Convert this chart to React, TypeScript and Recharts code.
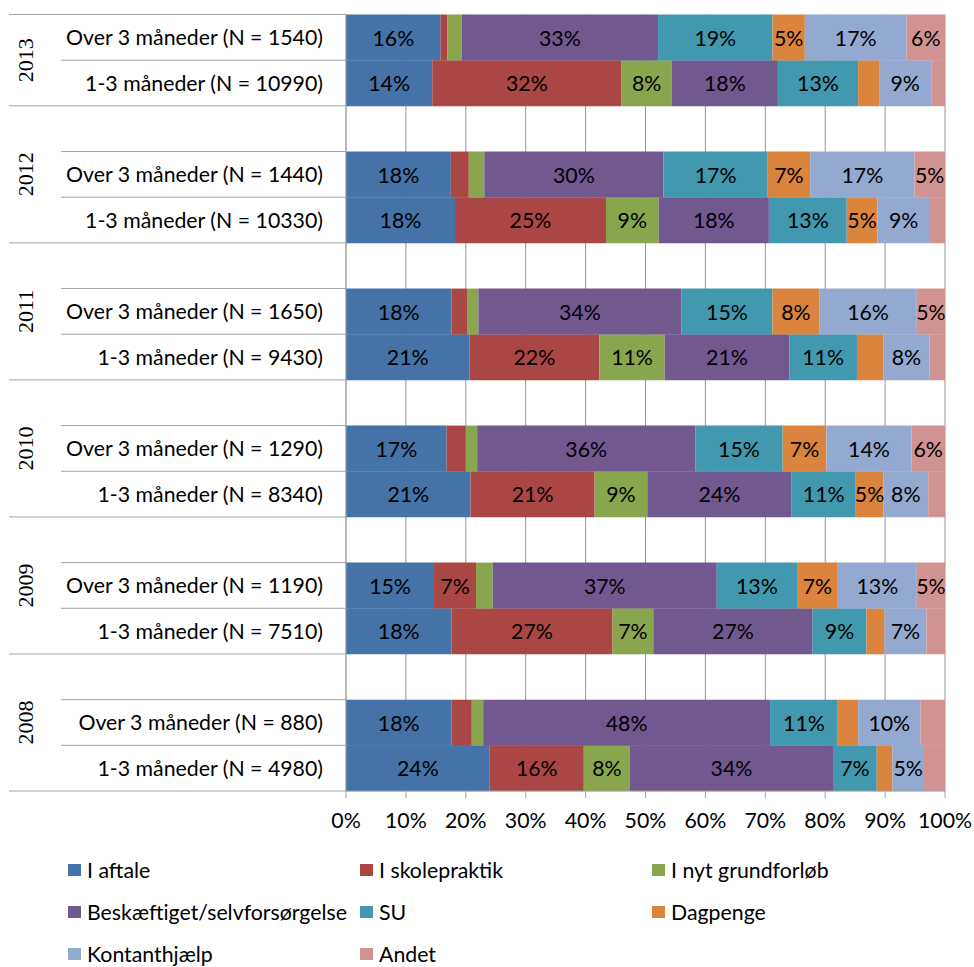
import React from 'react';
import { BarChart, Bar, XAxis, YAxis, CartesianGrid, LabelList, Legend } from 'recharts';

// years from top to bottom, each with an "Over 3" row and a "1-3" row
const years = ['2013', '2012', '2011', '2010', '2009', '2008'];
const overN = [1540, 1440, 1650, 1290, 1190, 880];
const shortN = [10990, 10330, 9430, 8340, 7510, 4980];

// shares in %, ordered (Over 3, 1-3) per year, 2013 -> 2008
const iAftale = [15.8, 14.4, 17.5, 18.2, 17.6, 20.6, 16.8, 20.8, 14.7, 17.6, 17.6, 24.0];
const iSkolepraktik = [1.1, 31.6, 3.0, 25.2, 2.6, 21.7, 3.2, 20.7, 7.0, 26.9, 3.4, 15.7];
const iNytGrundforloeb = [2.4, 8.4, 2.6, 8.8, 1.9, 10.9, 1.9, 8.8, 2.8, 6.8, 1.9, 7.7];
const beskaeftiget = [32.8, 17.7, 29.9, 18.4, 33.9, 20.8, 36.4, 24.1, 37.4, 26.6, 47.9, 33.9];
const su = [19.1, 13.4, 17.4, 13.0, 15.2, 11.3, 14.6, 10.7, 13.4, 9.0, 11.3, 7.3];
const dagpenge = [5.4, 3.5, 7.1, 5.1, 7.8, 4.4, 7.3, 4.6, 6.8, 3.0, 3.4, 2.6];
const kontanthjaelp = [17.0, 8.7, 17.4, 8.8, 16.3, 7.7, 14.2, 7.5, 13.2, 7.0, 10.4, 5.3];
const andet = [6.4, 2.3, 5.1, 2.5, 4.7, 2.6, 5.6, 2.8, 4.7, 3.1, 4.1, 3.5];

const seriesNames = [
  'I aftale',
  'I skolepraktik',
  'I nyt grundforløb',
  'Beskæftiget/selvforsørgelse',
  'SU',
  'Dagpenge',
  'Kontanthjælp',
  'Andet',
];
const seriesValues = [iAftale, iSkolepraktik, iNytGrundforloeb, beskaeftiget, su, dagpenge, kontanthjaelp, andet];
const seriesColors = ['#4572A7', '#AA4643', '#89A54E', '#71588F', '#4198AF', '#DB843D', '#93A9CF', '#D19392'];
const seriesKeys = seriesNames.map((_, i) => `s${i}`);

const xTicks = [0, 10, 20, 30, 40, 50, 60, 70, 80, 90, 100];

const FONT = 'Lato, "Noto Sans", sans-serif';
const FONT_SIZE = 21.3;
const YEAR_FONT = '"Liberation Serif", serif';
const PLOT_TOP = 14.5;
const PLOT_BOTTOM = 791;
const AXIS_X = 346;
const LINE_COLOR = '#a3a3a3';

type Row = { key: string; label: string; year: string; kind: 'over' | 'short' | 'blank'; [k: string]: any };

const rows: Row[] = [];
years.forEach((year, i) => {
  if (i > 0) rows.push({ key: `blank-${year}`, label: '', year, kind: 'blank' });
  const over: Row = { key: `over-${year}`, label: `Over 3 måneder (N = ${overN[i]})`, year, kind: 'over' };
  const short: Row = { key: `short-${year}`, label: `1-3 måneder (N = ${shortN[i]})`, year, kind: 'short' };
  seriesValues.forEach((vals, s) => {
    over[seriesKeys[s]] = vals[2 * i];
    short[seriesKeys[s]] = vals[2 * i + 1];
  });
  rows.push(over, short);
});

const BAND = (PLOT_BOTTOM - PLOT_TOP) / rows.length;

const CategoryTick = (props: any) => {
  const { y, payload } = props;
  const row = rows.find((r) => r.key === payload.value);
  if (!row) return null;
  const top = y - BAND / 2;
  const bottom = y + BAND / 2;
  const first = row.key === rows[0].key;
  let yearY: number | null = null;
  if (row.kind === 'over') yearY = first ? bottom : y;
  return (
    <g>
      {first && <line x1={9} x2={AXIS_X} y1={top} y2={top} stroke={LINE_COLOR} />}
      <line x1={row.kind === 'short' ? 9 : 61} x2={AXIS_X} y1={bottom} y2={bottom} stroke={LINE_COLOR} />
      {row.label && (
        <text x={323} y={y} textAnchor="end" dominantBaseline="central" fontFamily={FONT} fontSize={FONT_SIZE} fill="#000">
          {row.label}
        </text>
      )}
      {yearY !== null && (
        <text
          x={26}
          y={yearY}
          transform={`rotate(-90 26 ${yearY})`}
          textAnchor="middle"
          dominantBaseline="central"
          fontFamily={YEAR_FONT}
          fontSize={22}
          fill="#000"
        >
          {row.year}
        </text>
      )}
    </g>
  );
};

const renderLabel = (props: any) => {
  const { x, y, width, height, value } = props;
  if (value == null || value < 4.5) return null;
  return (
    <text
      x={x + width / 2}
      y={y + height / 2}
      textAnchor="middle"
      dominantBaseline="central"
      fontFamily={FONT}
      fontSize={FONT_SIZE}
      fill="#000"
    >
      {`${Math.round(value)}%`}
    </text>
  );
};

const legendCols = [68, 360, 652];

const LegendContent = () => (
  <div style={{ position: 'relative', width: 974, height: 104, fontFamily: FONT, fontSize: FONT_SIZE, color: '#000' }}>
    {seriesNames.map((name, i) => (
      <div
        key={name}
        style={{
          position: 'absolute',
          left: legendCols[i % 3],
          top: Math.floor(i / 3) * 42,
          height: 22,
          lineHeight: '22px',
          display: 'flex',
          alignItems: 'center',
          whiteSpace: 'nowrap',
        }}
      >
        <span style={{ display: 'inline-block', width: 13, height: 12, background: seriesColors[i], marginRight: 6 }} />
        <span>{name}</span>
      </div>
    ))}
  </div>
);

export default function App() {
  return (
    <div style={{ position: 'absolute', left: 0, top: 0, width: 974, height: 967, background: '#fff' }}>
      <BarChart
        width={974}
        height={967}
        data={rows}
        layout="vertical"
        barCategoryGap={0}
        margin={{ top: PLOT_TOP, right: 29, bottom: 0, left: 0 }}
      >
        <CartesianGrid horizontal={false} stroke="#969696" />
        <XAxis
          type="number"
          domain={[0, 100]}
          ticks={xTicks}
          allowDataOverflow
          tickFormatter={(v: number) => `${v}%`}
          height={967 - PLOT_BOTTOM}
          axisLine={{ stroke: LINE_COLOR }}
          tickLine={{ stroke: LINE_COLOR }}
          tickSize={7}
          tickMargin={15}
          tick={{ fontFamily: FONT, fontSize: FONT_SIZE, fill: '#000' }}
        />
        <YAxis
          type="category"
          dataKey="key"
          width={AXIS_X}
          interval={0}
          axisLine={{ stroke: LINE_COLOR }}
          tickLine={false}
          tick={CategoryTick}
        />
        {seriesKeys.map((k, i) => (
          <Bar key={k} dataKey={k} name={seriesNames[i]} stackId="a" fill={seriesColors[i]} isAnimationActive={false}>
            <LabelList dataKey={k} content={renderLabel} />
          </Bar>
        ))}
        <Legend
          layout="horizontal"
          verticalAlign="middle"
          align="center"
          wrapperStyle={{ top: 859, left: 0, width: 974 }}
          content={LegendContent}
        />
      </BarChart>
    </div>
  );
}
